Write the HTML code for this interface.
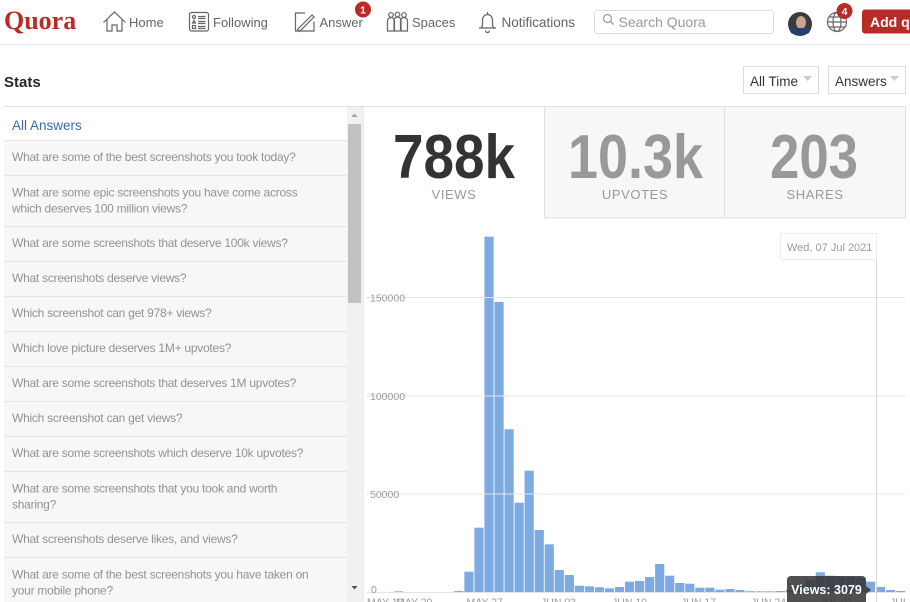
<!DOCTYPE html>
<html><head><meta charset="utf-8"><style>
html,body{margin:0;padding:0;background:#fff;width:910px;height:602px;overflow:hidden}
svg{display:block;font-family:"Liberation Sans",sans-serif}
</style></head><body>
<svg width="910" height="602" viewBox="0 0 910 602" xmlns="http://www.w3.org/2000/svg">
<rect x="0" y="0" width="910" height="602" fill="#fff"/>
<!-- HEADER -->
<text x="4" y="29" font-family="Liberation Serif,serif" font-weight="bold" font-size="26" fill="#b92b27">Quora</text>
<g fill="none" stroke="#636466" stroke-width="1.2">
 <path d="M103.5 22.5 L114.5 12 L125.5 22.5"/>
 <path d="M107 19.5 V31 H112 V25 H117 V31 H122 V19.5"/>
 <rect x="189.5" y="12.5" width="19" height="18.5" rx="2"/>
 <circle cx="194" cy="17" r="1.5"/>
 <path d="M192.5 23 L194 20.3 L195.5 23 Z"/>
 <rect x="192.5" y="25.5" width="3" height="3"/>
 <path d="M198 16.5 H205.5 M198 18.5 H205.5 M198 21.5 H205.5 M198 23.5 H205.5 M198 26.5 H205.5 M198 28.5 H205.5"/>
 <path d="M305 13 H295.5 V31 H314 V21.5"/>
 <path d="M297.5 29.5 L312 15 L314 17 L299.5 31.5 Z"/>
 <circle cx="391" cy="15" r="2.3"/><circle cx="397.5" cy="14.5" r="2.3"/><circle cx="404" cy="15" r="2.3"/>
 <path d="M387.5 31 V21 a3.5 3.5 0 0 1 7 0 V31 Z M394 31 V20.5 a3.5 3.5 0 0 1 7 0 V31 Z M400.5 31 V21 a3.5 3.5 0 0 1 7 0 V31 Z"/>
 <path d="M479 28 H496 M481 28 Q482.5 26.5 482.5 24 V20 a5 5.5 0 0 1 10 0 V24 Q492.5 26.5 494 28"/>
 <path d="M485.5 30.5 a2 2 0 0 0 4 0"/>
 <path d="M487.5 12 V14"/>
</g>
<g font-size="13" fill="#636466">
 <text x="129" y="27">Home</text>
 <text x="213" y="27">Following</text>
 <text x="319.5" y="27">Answer</text>
 <text x="412" y="27">Spaces</text>
 <text x="501.5" y="27" font-size="13.5">Notifications</text>
</g>
<circle cx="363" cy="9.5" r="8" fill="#b92b27"/>
<text x="363" y="13.5" font-size="10.5" font-weight="bold" fill="#fff" text-anchor="middle">1</text>
<rect x="594.5" y="10.5" width="179" height="23" rx="3" fill="#fff" stroke="#dcdcdc"/>
<circle cx="607.5" cy="18.5" r="4" fill="none" stroke="#999" stroke-width="1.2"/>
<path d="M610.5 21.5 L613.5 24.5" stroke="#999" stroke-width="1.3"/>
<text x="618.5" y="27" font-size="14" fill="#999">Search Quora</text>
<circle cx="800" cy="24" r="12" fill="#3e3a3e"/>
<ellipse cx="801" cy="22.5" rx="5" ry="6.5" fill="#c8a58e"/>
<path d="M789 29 Q800 27 811 29 L809 33 Q800 38 791 33 Z" fill="#24406e"/>
<g fill="none" stroke="#666" stroke-width="1.2">
 <circle cx="837" cy="22" r="9.5"/>
 <ellipse cx="837" cy="22" rx="4" ry="9.5"/>
 <path d="M827.5 22 H846.5 M829 17 H845 M829 27 H845"/>
</g>
<circle cx="844.5" cy="11" r="8" fill="#b92b27"/>
<text x="844.5" y="15" font-size="10.5" font-weight="bold" fill="#fff" text-anchor="middle">4</text>
<rect x="862" y="9.5" width="60" height="24" rx="3" fill="#b92b27"/>
<text x="870" y="27" font-size="14" font-weight="bold" fill="#fff">Add question</text>
<line x1="0" y1="44.5" x2="910" y2="44.5" stroke="#e3e3e3"/>

<!-- STATS ROW -->
<text x="4" y="87" font-size="15" font-weight="bold" fill="#282829">Stats</text>
<rect x="743.5" y="66.5" width="75" height="27" fill="#fff" stroke="#dcdcdc"/>
<text x="750" y="86" font-size="13.5" fill="#333">All Time</text>
<path d="M803 76 H812 L807.5 81 Z" fill="#ccc"/>
<rect x="828.5" y="66.5" width="77" height="27" fill="#fff" stroke="#dcdcdc"/>
<text x="835" y="86" font-size="13.5" fill="#333">Answers</text>
<path d="M890 76 H899 L894.5 81 Z" fill="#ccc"/>

<!-- LEFT PANEL -->
<line x1="4" y1="106.5" x2="905" y2="106.5" stroke="#e0e0e0"/>
<text x="12" y="130" font-size="13.5" fill="#3d6aa3">All Answers</text>
<rect x="4" y="140.5" width="343" height="462" fill="#f7f7f7"/>
<g stroke="#e4e4e4">
 <line x1="4" y1="140.5" x2="347" y2="140.5"/>
 <line x1="4" y1="175.5" x2="347" y2="175.5"/>
 <line x1="4" y1="226.5" x2="347" y2="226.5"/>
 <line x1="4" y1="261.5" x2="347" y2="261.5"/>
 <line x1="4" y1="296.5" x2="347" y2="296.5"/>
 <line x1="4" y1="331.5" x2="347" y2="331.5"/>
 <line x1="4" y1="366.5" x2="347" y2="366.5"/>
 <line x1="4" y1="401.5" x2="347" y2="401.5"/>
 <line x1="4" y1="436.5" x2="347" y2="436.5"/>
 <line x1="4" y1="471.5" x2="347" y2="471.5"/>
 <line x1="4" y1="522.5" x2="347" y2="522.5"/>
 <line x1="4" y1="557.5" x2="347" y2="557.5"/>
</g>
<g font-size="12" fill="#929292" letter-spacing="-0.25">
 <text x="12" y="161">What are some of the best screenshots you took today?</text>
 <text x="12" y="196.5">What are some epic screenshots you have come across</text>
 <text x="12" y="212.5">which deserves 100 million views?</text>
 <text x="12" y="247">What are some screenshots that deserve 100k views?</text>
 <text x="12" y="282">What screenshots deserve views?</text>
 <text x="12" y="317">Which screenshot can get 978+ views?</text>
 <text x="12" y="352">Which love picture deserves 1M+ upvotes?</text>
 <text x="12" y="387">What are some screenshots that deserves 1M upvotes?</text>
 <text x="12" y="422">Which screenshot can get views?</text>
 <text x="12" y="457">What are some screenshots which deserve 10k upvotes?</text>
 <text x="12" y="492.5">What are some screenshots that you took and worth</text>
 <text x="12" y="508.5">sharing?</text>
 <text x="12" y="543">What screenshots deserve likes, and views?</text>
 <text x="12" y="578.5">What are some of the best screenshots you have taken on</text>
 <text x="12" y="594.5">your mobile phone?</text>
</g>
<!-- scrollbar -->
<rect x="347" y="107" width="15" height="495" fill="#f1f1f1"/>
<path d="M351.5 117 L354.5 113.5 L357.5 117 Z" fill="#a3a3a3"/>
<rect x="348" y="124" width="13" height="179" fill="#c1c1c1"/>
<path d="M351.5 586 L357.5 586 L354.5 589.5 Z" fill="#505050"/>

<!-- CHART PANEL -->
<line x1="363" y1="106.5" x2="363" y2="602" stroke="#dcdcdc"/>
<rect x="544.5" y="106.5" width="180" height="111.5" fill="#f7f7f7" stroke="#e0e0e0"/>
<rect x="724.5" y="106.5" width="181" height="111.5" fill="#f7f7f7" stroke="#e0e0e0"/>
<text x="454" y="178" font-size="62" font-weight="bold" fill="#333" text-anchor="middle" textLength="122" lengthAdjust="spacingAndGlyphs">788k</text>
<text x="635.5" y="178" font-size="62" font-weight="bold" fill="#999" text-anchor="middle" textLength="135" lengthAdjust="spacingAndGlyphs">10.3k</text>
<text x="814" y="178" font-size="62" font-weight="bold" fill="#999" text-anchor="middle" textLength="88" lengthAdjust="spacingAndGlyphs">203</text>
<g font-size="13" fill="#999" text-anchor="middle" letter-spacing="0.6">
 <text x="454" y="199">VIEWS</text>
 <text x="635" y="199">UPVOTES</text>
 <text x="815" y="199">SHARES</text>
</g>

<!-- bars -->
<g fill="#7eaae2" id="bars"></g>
<!-- gridlines on top -->
<g stroke="#e4e4e4" stroke-width="1">
 <line x1="366" y1="297.5" x2="905" y2="297.5"/>
 <line x1="366" y1="396" x2="905" y2="396"/>
 <line x1="366" y1="494" x2="905" y2="494"/>
 <line x1="366" y1="592.5" x2="905" y2="592.5"/>
</g>
<g font-size="10.5" fill="#9a9a9a">
 <text x="370" y="301.5">150000</text>
 <text x="370" y="400">100000</text>
 <text x="370" y="498">50000</text>
 <text x="371" y="593">0</text>
 <text x="367" y="605.5">MAY 13</text>
 <text x="396" y="605.5">MAY 20</text>
 <text x="466.5" y="605.5">MAY 27</text>
 <text x="541" y="605.5">JUN 03</text>
 <text x="612" y="605.5">JUN 10</text>
 <text x="681" y="605.5">JUN 17</text>
 <text x="751" y="605.5">JUN 24</text>
 <text x="820" y="605.5">JUL 01</text>
 <text x="890" y="605.5">JUL 08</text>
</g>
<!-- crosshair + date -->
<line x1="876.5" y1="233" x2="876.5" y2="602" stroke="#d8d8d8"/>
<rect x="780.5" y="233.5" width="96" height="26" fill="#fff" stroke="#ececec"/>
<text x="787" y="251" font-size="11" fill="#9a9a9a">Wed, 07 Jul 2021</text>
<!-- tooltip -->
<rect x="787" y="576" width="79" height="32" rx="4" fill="#333" fill-opacity="0.86"/>
<path d="M866 586 L871 590 L866 594 Z" fill="#333" fill-opacity="0.86"/>
<text x="826.5" y="594" font-size="12.5" font-weight="bold" fill="#fff" text-anchor="middle">Views: 3079</text>
</svg>
<script>
(function(){
 var tops=[591,571.7,527.7,236.7,302,429.3,502.7,470.7,530,544.3,570,575,585.7,586.3,587.3,588.3,587,581.7,581,577,564,575.7,583,583.7,587.7,587.7,589.7,589,590,591.2,591.3,591.3,591,590,586,580,572.3,575.7,576.7,577,578,581.7,587,590,591];
 var g=document.getElementById('bars');var ns='http://www.w3.org/2000/svg';
 function add(x,t){var r=document.createElementNS(ns,'rect');r.setAttribute('x',x.toFixed(2));r.setAttribute('y',t);r.setAttribute('width','9.2');r.setAttribute('height',(592.5-t).toFixed(2));g.appendChild(r);}
 add(394,591.3);
 for(var k=0;k<tops.length;k++){add(454.3+10.04*k,tops[k]);}
})();
</script>
</body></html>
